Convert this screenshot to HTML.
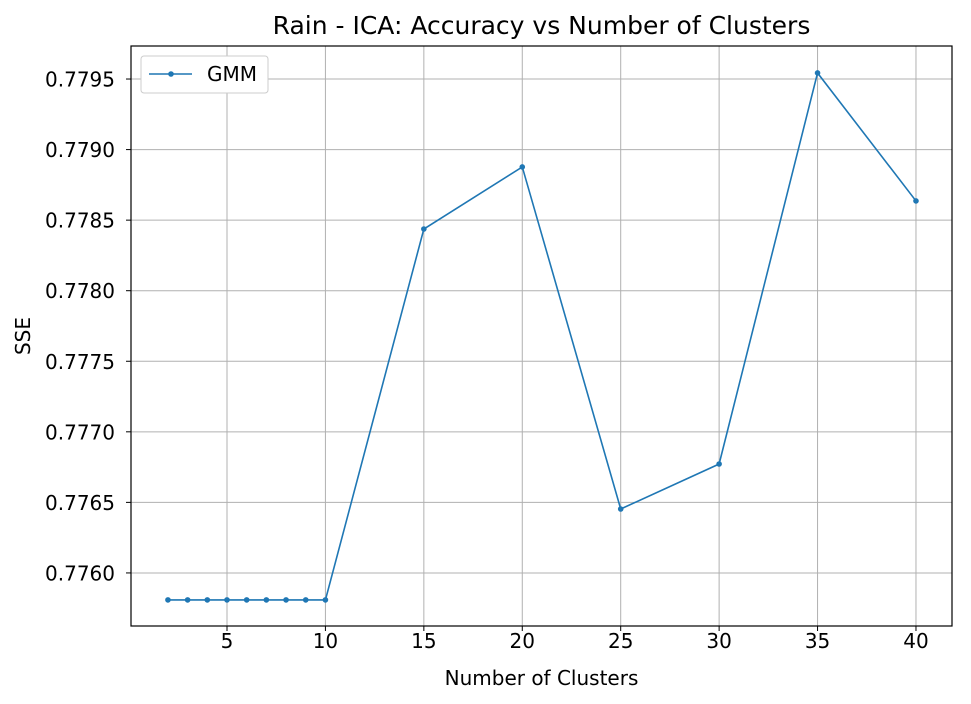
<!DOCTYPE html>
<html><head><meta charset="utf-8"><style>body{margin:0;background:#fff}svg{display:block;font-family:"DejaVu Sans","Liberation Sans",sans-serif}</style></head>
<body>
<svg id="chart" width="971" height="704" viewBox="0 0 971 704"></svg>
<script>
const xValues=[2,3,4,5,6,7,8,9,10,15,20,25,30,35,40];
const gmmValues=[0.775809,0.775809,0.775809,0.775809,0.775809,0.775809,0.775809,0.775809,0.775809,0.778437,0.778877,0.776453,0.776772,0.779543,0.778636];
const xTicks=[5,10,15,20,25,30,35,40];
const yTicks=[0.7760,0.7765,0.7770,0.7775,0.7780,0.7785,0.7790,0.7795];
const L=131,R=952,T=46,B=626;
const x0=0.1234,x1=41.83,y0=0.775624,y1=0.779734;
const sx=v=>L+(v-x0)/(x1-x0)*(R-L);
const sy=v=>B-(v-y0)/(y1-y0)*(B-T);
const svg=document.getElementById('chart');
const NS='http://www.w3.org/2000/svg';
function mk(tag,attrs,parent){const e=document.createElementNS(NS,tag);for(const k in attrs)e.setAttribute(k,attrs[k]);(parent||svg).appendChild(e);return e;}
const grid=mk('g',{});


xTicks.forEach(t=>{const X=sx(t);
const g=mk('line',{x1:X,x2:X,y1:T,y2:B,stroke:'#b0b0b0','stroke-width':1},grid);


mk('line',{x1:X,x2:X,y1:B,y2:B+5,stroke:'#000'});
const tx=mk('text',{x:X,y:B+22,'text-anchor':'middle','font-size':20});tx.textContent=t;

});
yTicks.forEach(t=>{const Y=sy(t);
const g=mk('line',{x1:L,x2:R,y1:Y,y2:Y,stroke:'#b0b0b0','stroke-width':1},grid);


mk('line',{x1:L-5,x2:L,y1:Y,y2:Y,stroke:'#000'});
const tx=mk('text',{x:L-16,y:Y+7.5,'text-anchor':'end','font-size':20});tx.textContent=t.toFixed(4);

});
const frame=mk('rect',{x:L,y:T,width:R-L,height:B-T,fill:'none',stroke:'#000','stroke-width':1.2});


const pts=xValues.map((v,i)=>sx(v)+','+sy(gmmValues[i])).join(' ');
const line=mk('polyline',{points:pts,fill:'none',stroke:'#1f77b4','stroke-width':1.6});


xValues.forEach((v,i)=>{const c=mk('circle',{cx:sx(v),cy:sy(gmmValues[i]),r:2.8,fill:'#1f77b4'});

});
const title=mk('text',{x:(L+R)/2,y:34,'text-anchor':'middle','font-size':25});title.textContent='Rain - ICA: Accuracy vs Number of Clusters';


const xl=mk('text',{x:(L+R)/2,y:685,'text-anchor':'middle','font-size':20});xl.textContent='Number of Clusters';


const yc=(T+B)/2;
const yl=mk('text',{x:30,y:yc,'text-anchor':'middle','font-size':20,transform:`rotate(-90 30 ${yc})`});yl.textContent='SSE';


const lg=mk('g',{});


mk('rect',{x:141,y:56,width:127,height:37,rx:3,fill:'#fff',stroke:'#ccc'},lg);
mk('line',{x1:149,x2:192,y1:74,y2:74,stroke:'#1f77b4','stroke-width':1.6},lg);
mk('circle',{cx:171,cy:74,r:2.8,fill:'#1f77b4'},lg);
const lt=mk('text',{x:207,y:81,'font-size':20},lg);lt.textContent='GMM';
</script>
</body></html>
